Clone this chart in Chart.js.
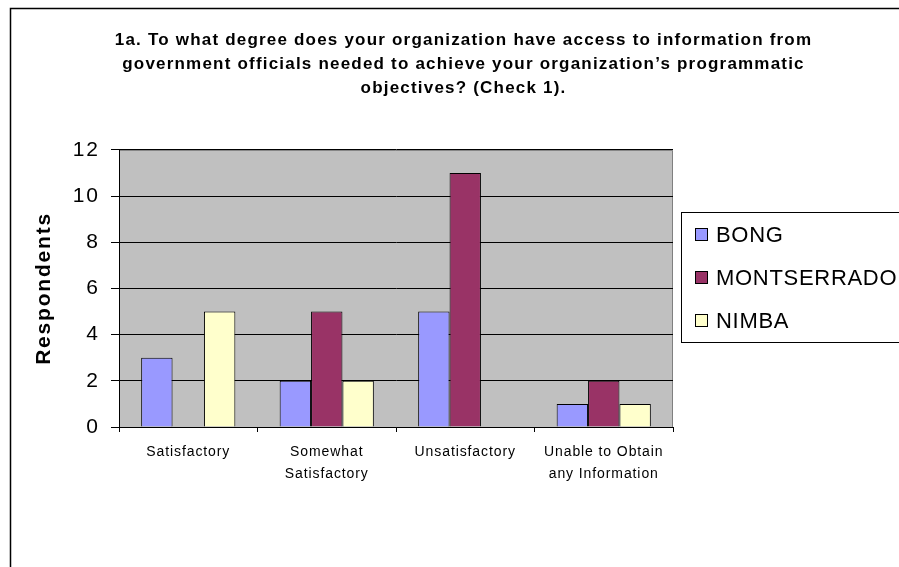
<!DOCTYPE html>
<html>
<head>
<meta charset="utf-8">
<script src="https://cdn.jsdelivr.net/npm/chart.js@4/dist/chart.umd.min.js"></script>
<style>
html,body{margin:0;padding:0;background:#fff;}
#wrap{position:relative;width:899px;height:567px;}
</style>
</head>
<body>
<div id="wrap"><canvas id="c" width="899" height="567"></canvas></div>
<script>
const titleLines = [
  "1a. To what degree does your organization have access to information from",
  "government officials needed to achieve your organization\u2019s programmatic",
  "objectives? (Check 1)."
];
const categories = [["Satisfactory"], ["Somewhat", "Satisfactory"], ["Unsatisfactory"], ["Unable to Obtain", "any Information"]];
const seriesNames = ["BONG", "MONTSERRADO", "NIMBA"];
const bong = [3, 2, 5, 1];
const montserrado = [0, 5, 11, 2];
const nimba = [5, 2, 0, 1];
const yTicks = [0, 2, 4, 6, 8, 10, 12];
const yTitle = "Respondents";
const colors = ["#9999FF", "#993366", "#FFFFCC"];

const FONT = "'Liberation Sans', Arial, sans-serif";

function withSpacing(obj, method, sp) {
  if (!obj || obj['_ws_' + method]) return;
  const orig = obj[method];
  obj[method] = function (...args) {
    const ctx = this.ctx;
    const prev = ctx.letterSpacing;
    ctx.letterSpacing = sp;
    try { return orig.apply(this, args); } finally { ctx.letterSpacing = prev; }
  };
  obj['_ws_' + method] = true;
}

const decor = {
  id: 'decor',
  beforeDraw(chart) {
    withSpacing(chart.titleBlock, 'draw', '1.2px');
    withSpacing(chart.scales.x, 'drawLabels', '0.9px');
    withSpacing(chart.scales.y, 'drawLabels', '2px');
    withSpacing(chart.scales.y, 'drawTitle', '1.8px');
    const ctx = chart.ctx, a = chart.chartArea;
    ctx.save();
    ctx.fillStyle = '#fff';
    ctx.fillRect(0, 0, chart.width, chart.height);
    ctx.strokeStyle = '#000';
    ctx.lineWidth = 1.5;
    ctx.strokeRect(10.5, 8.5, 950, 600);
    ctx.fillStyle = '#C0C0C0';
    ctx.fillRect(a.left, a.top, a.right - a.left, a.bottom - a.top);
    ctx.strokeStyle = '#808080';
    ctx.lineWidth = 1;
    ctx.beginPath();
    ctx.moveTo(a.left, a.top + 0.5);
    ctx.lineTo(a.right - 0.5, a.top + 0.5);
    ctx.lineTo(a.right - 0.5, a.bottom);
    ctx.stroke();
    ctx.restore();
  },
  afterDraw(chart) {
    const ctx = chart.ctx;
    ctx.save();
    ctx.fillStyle = '#fff';
    ctx.strokeStyle = '#000';
    ctx.lineWidth = 1;
    ctx.fillRect(681.5, 212.5, 260, 130);
    ctx.strokeRect(681.5, 212.5, 260, 130);
    const ys = [235, 278, 321];
    ctx.letterSpacing = '0.7px';
    chart.data.datasets.forEach((ds, i) => {
      ctx.fillStyle = ds.backgroundColor;
      ctx.fillRect(695.5, ys[i] - 6.5, 12, 12);
      ctx.strokeRect(695.5, ys[i] - 6.5, 12, 12);
      ctx.fillStyle = '#000';
      ctx.font = "22px " + FONT;
      ctx.textBaseline = 'middle';
      ctx.textAlign = 'left';
      ctx.fillText(ds.label, 716, ys[i] + 1);
    });
    ctx.restore();
  }
};

new Chart(document.getElementById('c'), {
  type: 'bar',
  data: {
    labels: categories,
    datasets: [
      { label: seriesNames[0], data: bong, backgroundColor: colors[0] },
      { label: seriesNames[1], data: montserrado, backgroundColor: colors[1] },
      { label: seriesNames[2], data: nimba, backgroundColor: colors[2] }
    ].map(d => Object.assign(d, { borderColor: '#000', borderWidth: 1, barPercentage: 1, categoryPercentage: 0.68 }))
  },
  options: {
    responsive: false,
    animation: false,
    devicePixelRatio: 1,
    layout: { padding: { left: 28, right: 0, top: 0, bottom: 0 } },
    plugins: {
      legend: { display: false },
      tooltip: { enabled: false },
      title: {
        display: true,
        text: titleLines,
        color: '#000',
        font: { family: FONT, size: 17, weight: 'bold', lineHeight: 1.41 },
        padding: { top: 28, bottom: 50 }
      }
    },
    scales: {
      x: {
        afterFit(s) { s.height = 140; },
        grid: { display: true, drawOnChartArea: false, offset: true, color: '#000', tickLength: 5 },
        border: { display: true, color: '#000', width: 1 },
        ticks: { color: '#000', padding: 9, maxRotation: 0, autoSkip: false, font: { family: FONT, size: 14, lineHeight: 1.57 } }
      },
      y: {
        min: 0, max: 12,
        afterFit(s) { s.width = 91; },
        afterBuildTicks(s) { s.ticks = yTicks.map(v => ({ value: v })); },
        grid: { color: '#000', tickLength: 8, lineWidth: 1 },
        border: { display: true, color: '#000', width: 1 },
        ticks: { color: '#000', padding: 11, font: { family: FONT, size: 21 } },
        title: { display: true, text: yTitle, color: '#000', padding: { top: 4, bottom: 0 }, font: { family: FONT, size: 21, weight: 'bold', lineHeight: 1.2 } }
      },
      yRight: {
        type: 'linear',
        position: 'right',
        display: true,
        afterFit(s) { s.width = 226; },
        grid: { display: false, drawOnChartArea: false },
        border: { display: false },
        ticks: { display: false }
      }
    }
  },
  plugins: [decor]
});
</script>
</body>
</html>
